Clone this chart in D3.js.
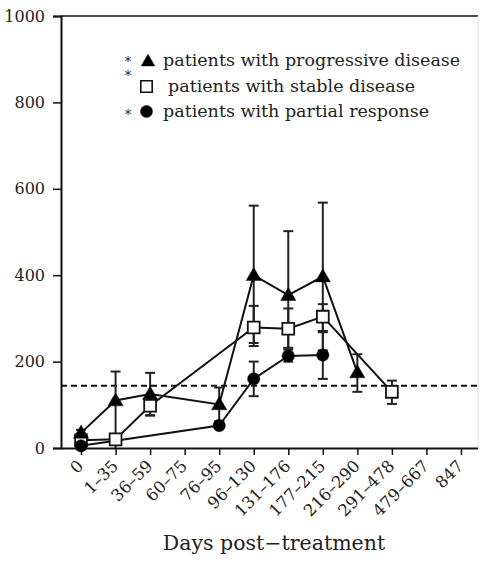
<!DOCTYPE html>
<html>
<head>
<meta charset="utf-8">
<script src="https://cdn.jsdelivr.net/npm/d3@7"></script>
<style>
  html, body { margin: 0; padding: 0; background: #fff; }
  svg { display: block; }
</style>
</head>
<body>
<svg id="chart" width="480" height="561"></svg>
<script>
// ---- data ----
const categories = ["0", "1–35", "36–59", "60–75", "76–95", "96–130", "131–176", "177–215", "216–290", "291–478", "479–667", "847"];
const yTicks = [0, 200, 400, 600, 800, 1000];
const threshold = 144;

// progressive disease (triangles)
const progMean = [35, 110, 125, null, 101, 400, 354, 397, 175, null, null, null];
const progLow  = [28, 0, 76, null, 62, 243, 206, 226, 130, null, null, null];
const progHigh = [42, 177, 174, null, 140, 561, 502, 568, 217, null, null, null];

// stable disease (open squares)
const stabMean = [18, 20, 98, null, null, 279, 276, 304, null, 130, null, null];
const stabLow  = [12, 12, 75, null, null, 236, 232, 271, null, 102, null, null];
const stabHigh = [24, 28, 112, null, null, 329, 323, 333, null, 156, null, null];

// partial response (filled circles)
const partMean = [5, null, null, null, 52, 160, 213, 215, null, null, null, null];
const partLow  = [0, null, null, null, 48, 120, 200, 160, null, null, null, null];
const partHigh = [10, null, null, null, 56, 200, 228, 268, null, null, null, null];

const legendLabels = ["patients with progressive disease", "patients with stable disease", "patients with partial response"];

// ---- layout ----
const svg = d3.select("#chart");
const mLeft = 61, mRight = 481, mTop = 16, mBottom = 448;
const FONT = "'DejaVu Serif'";

const x = d3.scalePoint().domain(categories).range([mLeft, mRight]).padding(0.58);
const y = d3.scaleLinear().domain([0, 1000]).range([mBottom, mTop]);

function toSeries(mean, lo, hi) {
  return categories.map((c, i) => ({ c, v: mean[i], lo: lo[i], hi: hi[i] })).filter(d => d.v !== null);
}
const series = [
  { key: "stab", data: toSeries(stabMean, stabLow, stabHigh), sym: d3.symbolSquare, size: 140, fill: "#fff" },
  { key: "part", data: toSeries(partMean, partLow, partHigh), sym: d3.symbolCircle, size: 120, fill: "#000" },
  { key: "prog", data: toSeries(progMean, progLow, progHigh), sym: d3.symbolTriangle, size: 100, fill: "#000" }
];

// frame
svg.append("line").attr("x1", mLeft).attr("x2", 478).attr("y1", mTop).attr("y2", mTop)
  .attr("stroke", "#111").attr("stroke-width", 1.5);
svg.append("line").attr("x1", 478).attr("x2", 478).attr("y1", mTop).attr("y2", mBottom)
  .attr("stroke", "#ddd").attr("stroke-width", 1);

// threshold dashed line
svg.append("line").attr("x1", mLeft).attr("x2", 480).attr("y1", y(threshold)).attr("y2", y(threshold))
  .attr("stroke", "#111").attr("stroke-width", 2).attr("stroke-dasharray", "6,4");

// y axis
const yAxis = svg.append("g").attr("transform", `translate(${mLeft},0)`)
  .call(d3.axisLeft(y).tickValues(yTicks).tickSize(8).tickPadding(8).tickFormat(d3.format("d")));
yAxis.attr("font-family", null).attr("font-size", null);
yAxis.select(".domain").attr("stroke", "#111").attr("stroke-width", 2);
yAxis.selectAll(".tick line").attr("stroke", "#111").attr("stroke-width", 1.5);
yAxis.selectAll(".tick text").attr("font-family", FONT).attr("font-size", 16).attr("fill", "#222");

// x axis
const xAxis = svg.append("g").attr("transform", `translate(0,${mBottom})`)
  .call(d3.axisBottom(x).tickSize(7).tickFormat(""));
xAxis.attr("font-family", null).attr("font-size", null);
xAxis.select(".domain").attr("d", `M${mLeft},0.5H478`).attr("stroke", "#111").attr("stroke-width", 2);
xAxis.selectAll(".tick line").attr("stroke", "#111").attr("stroke-width", 1.5);
xAxis.selectAll(".tick").append("text")
  .attr("transform", "translate(3,19) rotate(-45)")
  .attr("text-anchor", "end")
  .attr("font-family", FONT).attr("font-size", 16.5)
  .attr("fill", "#222")
  .text(d => d);

// axis title
svg.append("text").attr("x", 274).attr("y", 550).attr("text-anchor", "middle")
  .attr("font-family", FONT).attr("font-size", 20.5).attr("fill", "#222").text("Days post−treatment");

// lines
const line = d3.line().x(d => x(d.c)).y(d => y(d.v));
series.forEach(s => {
  svg.append("path").datum(s.data).attr("d", line)
    .attr("fill", "none").attr("stroke", "#111").attr("stroke-width", 2);
});

// error bars
series.forEach(s => {
  const g = svg.append("g").attr("stroke", "#222").attr("stroke-width", 2);
  s.data.forEach(d => {
    const cx = x(d.c);
    g.append("line").attr("x1", cx).attr("x2", cx).attr("y1", y(d.lo)).attr("y2", y(d.hi));
    if (d.lo > 0) g.append("line").attr("x1", cx - 5).attr("x2", cx + 5).attr("y1", y(d.lo)).attr("y2", y(d.lo));
    g.append("line").attr("x1", cx - 5).attr("x2", cx + 5).attr("y1", y(d.hi)).attr("y2", y(d.hi));
  });
});

// markers
series.forEach(s => {
  const sym = d3.symbol().type(s.sym).size(s.size);
  svg.append("g").selectAll("path").data(s.data).join("path")
    .attr("transform", d => `translate(${x(d.c)},${y(d.v) + (s.sym === d3.symbolTriangle ? 1 : 0)})`)
    .attr("d", sym)
    .attr("fill", s.fill).attr("stroke", "#111").attr("stroke-width", s.fill === "#fff" ? 1.8 : 0.5);
});

// legend
const legend = svg.append("g");
const legRows = [
  { sym: d3.symbolTriangle, size: 80, fill: "#000", mx: 148, my: 62, tx: 163, ty: 66, ay: 66 },
  { sym: d3.symbolSquare, size: 130, fill: "#fff", mx: 146.5, my: 86.5, tx: 168, ty: 91.5, ay: 80 },
  { sym: d3.symbolCircle, size: 115, fill: "#000", mx: 146.5, my: 111.5, tx: 163, ty: 117, ay: 119 }
];
legRows.forEach((r, i) => {
  legend.append("text").attr("x", 128).attr("y", r.ay).attr("text-anchor", "middle")
    .attr("font-family", FONT).attr("font-size", 13).attr("fill", "#222").text("*");
  legend.append("path").attr("transform", `translate(${r.mx},${r.my})`)
    .attr("d", d3.symbol().type(r.sym).size(r.size)())
    .attr("fill", r.fill).attr("stroke", "#111").attr("stroke-width", r.fill === "#fff" ? 1.6 : 0.5);
  legend.append("text").attr("x", r.tx).attr("y", r.ty)
    .attr("font-family", FONT).attr("font-size", 17.5).attr("fill", "#222")
    .text(legendLabels[i]);
});
</script>
</body>
</html>
